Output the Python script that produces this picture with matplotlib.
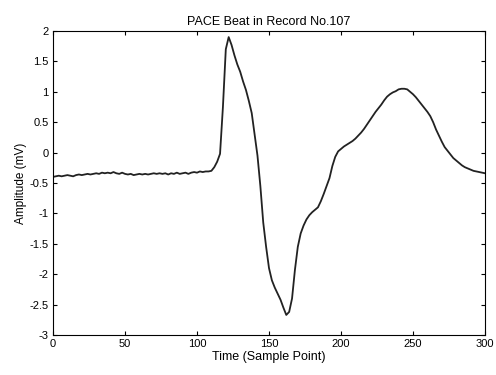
import matplotlib
matplotlib.use("Agg")
import matplotlib.pyplot as plt
import numpy as np

sample_points = list(range(0, 301, 2))
amplitude_mv = [
    -0.40, -0.39, -0.38, -0.39, -0.38, -0.37, -0.38, -0.39, -0.37, -0.36,
    -0.37, -0.36, -0.35, -0.36, -0.35, -0.34, -0.35, -0.33, -0.34, -0.33,
    -0.34, -0.32, -0.34, -0.35, -0.33, -0.35, -0.36, -0.35, -0.37, -0.36,
    -0.35, -0.36, -0.35, -0.36, -0.35, -0.34, -0.35, -0.34, -0.35, -0.34,
    -0.36, -0.34, -0.35, -0.33, -0.35, -0.34, -0.33, -0.35, -0.33, -0.32,
    -0.33, -0.31, -0.32, -0.31, -0.31, -0.30, -0.24, -0.15, -0.02, 0.75,
    1.70, 1.90, 1.77, 1.60, 1.45, 1.33, 1.17, 1.03, 0.85, 0.65,
    0.30, -0.05, -0.55, -1.15, -1.55, -1.90, -2.10, -2.22, -2.32, -2.42,
    -2.55, -2.67, -2.62, -2.40, -1.93, -1.55, -1.33, -1.20, -1.10, -1.03,
    -0.98, -0.94, -0.90, -0.80, -0.68, -0.55, -0.42, -0.22, -0.07, 0.02,
    0.06, 0.10, 0.13, 0.16, 0.19, 0.23, 0.28, 0.33, 0.39, 0.46,
    0.53, 0.60, 0.67, 0.73, 0.79, 0.86, 0.92, 0.96, 0.99, 1.01,
    1.04, 1.05, 1.05, 1.04, 1.00, 0.96, 0.91, 0.85, 0.79, 0.73,
    0.67, 0.60, 0.50, 0.38, 0.28, 0.18, 0.09, 0.03, -0.03, -0.09,
    -0.13, -0.17, -0.21, -0.24, -0.26, -0.28, -0.30, -0.31, -0.32, -0.33,
    -0.34,
]

x_ticks = [0, 50, 100, 150, 200, 250, 300]
y_ticks = [2, 1.5, 1, 0.5, 0, -0.5, -1, -1.5, -2, -2.5, -3]
y_tick_labels = ["2", "1.5", "1", "0.5", "0", "-0.5", "-1", "-1.5", "-2", "-2.5", "-3"]

plt.rcParams['font.family'] = ['Liberation Sans', 'DejaVu Sans']

fig = plt.figure(figsize=(4.96, 3.75), dpi=100)
ax = fig.add_axes([53/496, 1-335/375, (485-53)/496, (335-31)/375])

ax.plot(sample_points, amplitude_mv, color='#222222', linewidth=1.3)
ax.set_xlim(0, 300)
ax.set_ylim(-3, 2)
ax.set_xticks(x_ticks)
ax.set_yticks(y_ticks)
ax.set_yticklabels(y_tick_labels)
ax.tick_params(direction='in', top=True, right=True, length=3, labelsize=8, pad=3)
for s in ax.spines.values():
    s.set_linewidth(0.8)
ax.set_title("PACE Beat in Record No.107", fontsize=9, pad=4)
ax.set_xlabel("Time (Sample Point)", fontsize=9, labelpad=1)
ax.set_ylabel("Amplitude (mV)", fontsize=8.5, labelpad=2)

fig.savefig("out.png", dpi=100)
